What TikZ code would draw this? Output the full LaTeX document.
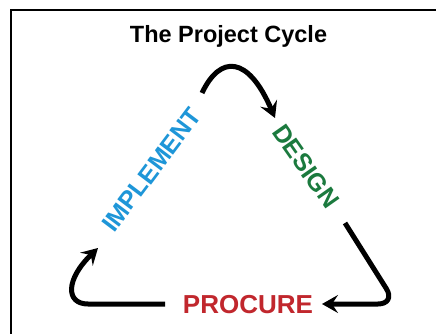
\documentclass[tikz,border=0pt]{standalone}
\usepackage{fontspec}
\setmainfont{Liberation Sans}
\usetikzlibrary{arrows.meta}
\definecolor{implblue}{HTML}{1E96D8}
\definecolor{desgreen}{HTML}{1B7A3E}
\definecolor{procred}{HTML}{C1272D}
\tikzset{
  cyclearrow/.style={line width=5pt, -{Stealth[length=16pt,width=18pt,inset=6pt]}},
  phase/.style={font=\fontsize{25}{25}\selectfont\bfseries, inner sep=0pt},
}
\begin{document}
\begin{tikzpicture}[x=1pt,y=-1pt]
\useasboundingbox (0,0) rectangle (436,334);
\clip (0,0) rectangle (436,334);
\fill[white] (0,0) rectangle (436,334);
\draw[line width=1.6pt] (11,10) rectangle (460,360);
\node[font=\fontsize{23.5}{23.5}\selectfont\bfseries, anchor=base] (title) at (228.5,43) {The Project Cycle};
\node[phase, text=implblue, rotate=53] (impl) at (151.5,170) {IMPLEMENT};
\node[phase, text=desgreen, rotate=-55] (des) at (306,166.5) {DESIGN};
\node[phase, text=procred, font=\fontsize{26}{26}\selectfont\bfseries, anchor=base] (proc) at (248,313) {PROCURE};
\coordinate (a1s) at (202,93);
\coordinate (a1e) at (275,118);
\coordinate (a2s) at (345,223);
\coordinate (a2c) at (396,304);
\coordinate (a2e) at (322,304);
\coordinate (a3s) at (165,304);
\coordinate (a3c) at (88,304);
\coordinate (a3e) at (98,248);
\draw[cyclearrow] (a1s) .. controls (220,55) and (248,55) .. (a1e);
\draw[cyclearrow, rounded corners=18pt] (a2s) -- (a2c) -- (a2e);
\draw[cyclearrow] (a3s) -- (a3c) .. controls (66,304) and (65,280) .. (a3e);
\end{tikzpicture}
\end{document}
